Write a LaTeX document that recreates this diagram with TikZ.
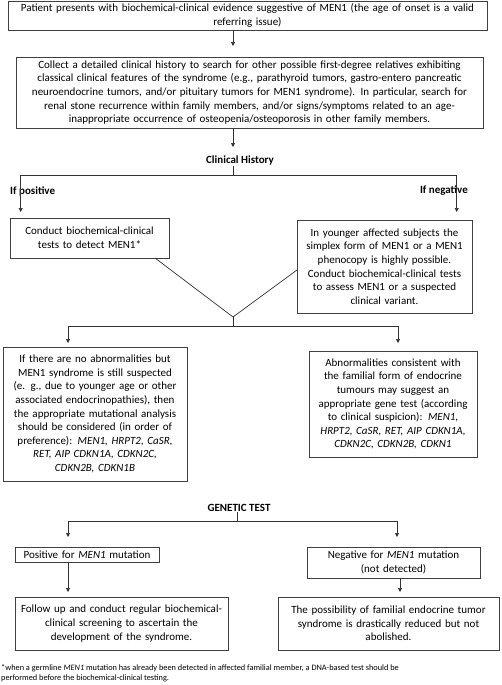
\documentclass[tikz,border=0pt]{standalone}
\usepackage{fontspec}
\setmainfont{Carlito}
\usetikzlibrary{arrows.meta}
\begin{document}
\begin{tikzpicture}[x=1pt,y=-1pt,
  box/.style={draw=black!75, line width=0.8pt, align=center, inner xsep=2pt, inner ysep=0pt,
    font=\fontsize{11}{13.6}\selectfont, anchor=center},
  lbl/.style={font=\bfseries\fontsize{11}{13.6}\selectfont, inner sep=0pt},
  ln/.style={draw=black!80, line width=0.7pt},
  arr/.style={ln, -{Triangle[length=4pt,width=4pt]}}]
\useasboundingbox (0,0) rectangle (502,685);
% boxes
\node[box, text width=475pt, minimum height=29pt] (b1) at (247.5,15.5)
 {Patient presents with biochemical-clinical evidence suggestive of MEN1 (the age of onset is a valid\\ referring issue)};
\node[box, text width=463pt, minimum height=71pt] (b2) at (249.5,92.5)
 {Collect a detailed clinical history to search for other possible first-degree relatives exhibiting\\
  classical clinical features of the syndrome (e.g., parathyroid tumors, gastro-entero pancreatic\\
  neuroendocrine tumors, and/or pituitary tumors for MEN1 syndrome). In particular, search for\\
  renal stone recurrence within family members, and/or signs/symptoms related to an age-\\
  inappropriate occurrence of osteopenia/osteoporosis in other family members.};
\node[lbl] (ch) at (240,161) {Clinical History};
\node[lbl, anchor=west] (ip) at (10,191) {If positive};
\node[lbl, anchor=east] (in) at (468,191) {If negative};
\node[box, text width=155pt, minimum height=40pt] (b3) at (89.5,238)
 {Conduct biochemical-clinical\\ tests to detect MEN1*};
\node[box, text width=171pt, minimum height=93pt] (b4) at (384.5,266.5)
 {In younger affected subjects the\\ simplex form of MEN1 or a MEN1\\ phenocopy is highly possible.\\ Conduct biochemical-clinical tests\\ to assess MEN1 or a suspected\\ clinical variant.};
\node[box, text width=180pt, minimum height=134pt] (b5) at (95,414)
 {If there are no abnormalities but\\ MEN1 syndrome is still suspected\\ (e. g., due to younger age or other\\ associated endocrinopathies), then\\ the appropriate mutational analysis\\ should be considered (in order of\\ preference): \textit{MEN1, HRPT2, CaSR,}\\ \textit{RET, AIP CDKN1A, CDKN2C,}\\ \textit{CDKN2B, CDKN1B}};
\node[box, text width=164pt, minimum height=106pt] (b6) at (393,404)
 {Abnormalities consistent with\\ the familial form of endocrine\\ tumours may suggest an\\ appropriate gene test (according\\ to clinical suspicion): \textit{MEN1,}\\ \textit{HRPT2, CaSR, RET, AIP CDKN1A,}\\ \textit{CDKN2C, CDKN2B, CDKN1}};
\node[lbl] (gt) at (239,508) {GENETIC TEST};
\node[box, text width=140pt, minimum height=15pt] (b7) at (87,554.5)
 {Positive for \textit{MEN1} mutation};
\node[box, text width=169pt, minimum height=31pt] (b8) at (393.5,562.5)
 {Negative for \textit{MEN1} mutation\\ (not detected)};
\node[box, text width=209pt, minimum height=53pt] (b9) at (121.5,623.5)
 {Follow up and conduct regular biochemical-\\ clinical screening to ascertain the\\ development of the syndrome.};
\node[box, text width=217pt, minimum height=53pt] (b10) at (388.5,623.5)
 {The possibility of familial endocrine tumor\\ syndrome is drastically reduced but not\\ abolished.};
\node[anchor=north west, inner sep=0pt, align=left, font=\fontsize{8.3}{10.5}\selectfont] (fn) at (1,664)
 {*when a germline \textit{MEN1} mutation has already been detected in affected familial member, a DNA-based test should be\\ performed before the biochemical-clinical testing.};
% coordinates
\coordinate (a1) at (233,46);
\coordinate (a2) at (233,147);
\coordinate (t1) at (233,175);
\coordinate (hl) at (20.7,175);
\coordinate (hr) at (456.7,175);
\coordinate (pl) at (20.7,212);
\coordinate (pr) at (456.7,212);
\coordinate (v3) at (155,258);
\coordinate (v4) at (297,270);
\coordinate (vm) at (233,317);
\coordinate (t2) at (233,326);
\coordinate (ml) at (68,326);
\coordinate (mr) at (398,326);
\coordinate (ql) at (68,343);
\coordinate (qr) at (398,343);
\coordinate (t3) at (237,521);
\coordinate (gl) at (68,521);
\coordinate (gr) at (397,521);
\coordinate (rl) at (68,537);
\coordinate (rr) at (397,537);
\coordinate (sl) at (68,592);
\coordinate (sr) at (400,592);
% connectors
\draw[arr] (b1.south -| a1) -- (a1);
\draw[arr] (b2.south -| a2) -- (a2);
\draw[ln] (ch.south -| t1) -- (t1);
\draw[ln] (hl) -- (hr);
\draw[arr] (hl) -- (pl);
\draw[arr] (hr) -- (pr);
\draw[ln] (v3) -- (vm) -- (v4);
\draw[ln] (vm) -- (t2);
\draw[ln] (ml) -- (mr);
\draw[arr] (ml) -- (ql);
\draw[arr] (mr) -- (qr);
\draw[ln] (gt.south -| t3) -- (t3);
\draw[ln] (gl) -- (gr);
\draw[arr] (gl) -- (rl);
\draw[arr] (gr) -- (rr);
\draw[arr] (b7.south -| sl) -- (sl);
\draw[arr] (b8.south -| sr) -- (sr);
\end{tikzpicture}
\end{document}
